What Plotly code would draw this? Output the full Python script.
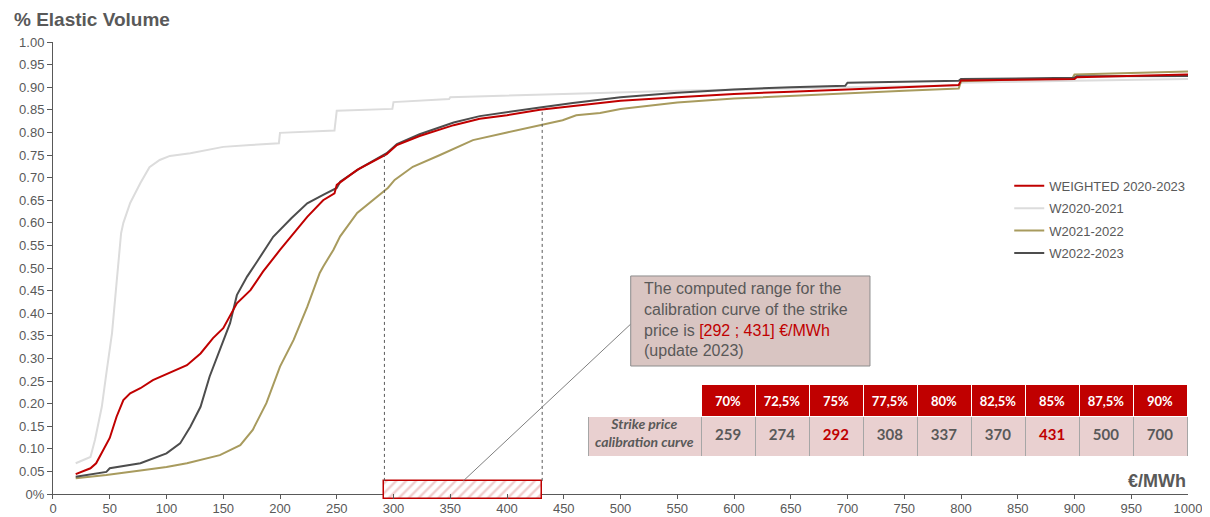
import plotly.graph_objects as go

# ---------------- data ----------------
weighted_x = [20, 33, 38, 46, 50, 56, 62, 68, 77, 88, 100, 109, 118, 130, 141, 150, 162, 174, 185, 200,
              212, 224, 238, 248, 250, 268, 294, 303, 323, 353, 376, 400, 429, 458, 482, 500, 550, 600,
              650, 700, 750, 798, 800, 850, 900, 902, 950, 1000]
weighted_y = [0.044, 0.057, 0.068, 0.105, 0.124, 0.171, 0.208, 0.223, 0.234, 0.252, 0.265, 0.274, 0.285,
              0.311, 0.345, 0.367, 0.422, 0.451, 0.492, 0.540, 0.577, 0.613, 0.650, 0.665, 0.684, 0.717,
              0.752, 0.772, 0.792, 0.816, 0.830, 0.838, 0.850, 0.858, 0.866, 0.870, 0.878, 0.885, 0.890,
              0.895, 0.900, 0.905, 0.915, 0.916, 0.918, 0.922, 0.925, 0.928]

w2021_x = [20, 33, 37, 43, 47, 52, 56, 60, 62, 68, 77, 85, 94, 103, 121, 150, 174, 199, 200, 248, 250,
           299, 300, 349, 350, 400, 482, 550, 600, 700, 798, 800, 900, 1000]
w2021_y = [0.068, 0.082, 0.120, 0.193, 0.267, 0.356, 0.467, 0.577, 0.600, 0.644, 0.688, 0.723, 0.739,
           0.748, 0.754, 0.768, 0.772, 0.776, 0.799, 0.804, 0.848, 0.852, 0.867, 0.874, 0.878, 0.882,
           0.887, 0.892, 0.895, 0.900, 0.904, 0.910, 0.914, 0.918]

w2122_x = [20, 47, 77, 100, 118, 147, 165, 176, 188, 200, 212, 220, 224, 235, 238, 247, 253, 268, 282,
           295, 301, 317, 341, 370, 400, 429, 449, 461, 482, 500, 550, 600, 650, 700, 750, 798, 800, 850,
           898, 900, 950, 1000]
w2122_y = [0.035, 0.042, 0.052, 0.060, 0.068, 0.086, 0.108, 0.142, 0.201, 0.282, 0.341, 0.392, 0.414,
           0.489, 0.503, 0.540, 0.570, 0.622, 0.650, 0.677, 0.695, 0.724, 0.750, 0.783, 0.800, 0.816,
           0.827, 0.838, 0.843, 0.852, 0.866, 0.875, 0.881, 0.887, 0.892, 0.897, 0.913, 0.917, 0.919,
           0.928, 0.931, 0.935]

w2223_x = [20, 47, 50, 77, 100, 112, 121, 130, 138, 147, 156, 162, 171, 180, 194, 210, 224, 238, 250,
           253, 270, 294, 303, 323, 353, 376, 400, 429, 458, 482, 500, 550, 600, 650, 698, 700, 750, 798,
           800, 850, 900, 902, 1000]
w2223_y = [0.038, 0.049, 0.057, 0.068, 0.090, 0.112, 0.149, 0.193, 0.260, 0.319, 0.378, 0.440, 0.481,
           0.515, 0.569, 0.610, 0.643, 0.662, 0.677, 0.691, 0.720, 0.754, 0.774, 0.796, 0.822, 0.836,
           0.845, 0.855, 0.865, 0.873, 0.878, 0.888, 0.895, 0.900, 0.903, 0.910, 0.912, 0.914, 0.918,
           0.919, 0.921, 0.924, 0.925]

y_tick_vals = [0, 0.05, 0.10, 0.15, 0.20, 0.25, 0.30, 0.35, 0.40, 0.45, 0.50, 0.55, 0.60, 0.65, 0.70,
               0.75, 0.80, 0.85, 0.90, 0.95, 1.00]
y_tick_text = ["0%", "0.05", "0.10", "0.15", "0.20", "0.25", "0.30", "0.35", "0.40", "0.45", "0.50",
               "0.55", "0.60", "0.65", "0.70", "0.75", "0.80", "0.85", "0.90", "0.95", "1.00"]

range_low = 292
range_high = 431
range_low_level = 0.75
range_high_level = 0.85

table_header = ["70%", "72,5%", "75%", "77,5%", "80%", "82,5%", "85%", "87,5%", "90%"]
table_values = [259, 274, 292, 308, 337, 370, 431, 500, 700]
table_label = "Strike price<br>calibration curve"

GRAY = "#595959"
RED = "#c00000"

fig = go.Figure()

# hatched range rectangle
fig.add_trace(go.Bar(
    x=[(range_low + range_high) / 2], y=[0.04], base=[-0.011], width=[range_high - range_low],
    marker=dict(color="white", line=dict(color=RED, width=1.5),
                pattern=dict(shape="/", fgcolor="#e09a9a", bgcolor="white", size=7, solidity=0.35)),
    showlegend=False, hoverinfo="skip"))

series = [
    ("W2020-2021", w2021_x, w2021_y, "#dcdcdc"),
    ("W2021-2022", w2122_x, w2122_y, "#a89b5e"),
    ("W2022-2023", w2223_x, w2223_y, "#4d4d4d"),
    ("WEIGHTED 2020-2023", weighted_x, weighted_y, RED),
]
legend_rank = {"WEIGHTED 2020-2023": 1, "W2020-2021": 2, "W2021-2022": 3, "W2022-2023": 4}
for name, xs, ys, col in series:
    fig.add_trace(go.Scatter(x=xs, y=ys, mode="lines", name=name, legendgroup=name,
                             line=dict(color=col, width=2), legendrank=legend_rank[name]))

# table
ncol = len(table_values)
cell_font_colors = [[GRAY]] + [[RED if v in (range_low, range_high) else GRAY] for v in table_values]
fig.add_trace(go.Table(
    domain=dict(x=[0.4714, 1.0], y=[0.094, 0.2495]),
    columnwidth=[113] + [54] * ncol,
    header=dict(values=[""] + [f"<b>{h}</b>" for h in table_header],
                fill_color=["white"] + [RED] * ncol,
                line=dict(color="white", width=1),
                font=dict(color="white", size=13, family="Lato"),
                align="center", height=28),
    cells=dict(values=[[""]] + [[f"<b>{v}</b>"] for v in table_values],
               fill_color="#e9d0d0",
               line=dict(color="#a6a6a6", width=1),
               font=dict(color=cell_font_colors, size=15, family="Lato"),
               align="center", height=43),
))

shapes = [
    dict(type="line", xref="x", yref="y", x0=range_low, x1=range_low, y0=0.029, y1=range_low_level,
         line=dict(color=GRAY, width=1, dash="dot")),
    dict(type="line", xref="x", yref="y", x0=range_high, x1=range_high, y0=0.029, y1=range_high_level,
         line=dict(color=GRAY, width=1, dash="dot")),
    dict(type="line", xref="x", yref="y", x0=(range_low + range_high) / 2, y0=0.029, x1=509, y1=0.376,
         line=dict(color="#7f7f7f", width=1)),
    # callout box
    dict(type="rect", xref="paper", yref="paper", x0=0.509, x1=0.7198, y0=0.291, y1=0.488,
         fillcolor="#d9c5c2", line=dict(color="#8c8c8c", width=1), layer="above"),
]

annotations = [
    dict(text="<b>% Elastic Volume</b>", xref="paper", yref="paper", x=-0.036, y=1.05,
         xanchor="left", yanchor="middle", showarrow=False, font=dict(size=19, color=GRAY)),
    dict(text="<b>€/MWh</b>", xref="paper", yref="paper", x=1.0, y=0.04,
         xanchor="right", yanchor="middle", showarrow=False, font=dict(size=18, color=GRAY)),
    dict(text=("The computed range for the<br>calibration curve of the strike<br>price is "
               f"<span style='color:{RED}'>[{range_low} ; {range_high}] €/MWh</span><br>(update 2023)"),
         xref="paper", yref="paper", x=0.52, y=0.481, xanchor="left", yanchor="top",
         showarrow=False, align="left", borderpad=0,
         font=dict(size=16, color=GRAY)),
    # row label of the table (vertically centred in its cell)
    dict(text=f"<b><i>{table_label}</i></b>", xref="paper", yref="paper", x=0.521, y=0.145,
         xanchor="center", yanchor="middle", showarrow=False, align="center",
         font=dict(size=14, color=GRAY, family="Lato")),
]

# the page adds an 8px body margin; the figure is sized so the plot sits where it should
fig.update_layout(
    width=1202, height=509,
    margin=dict(l=45, r=22, t=34, b=18),
    paper_bgcolor="white", plot_bgcolor="white",
    font=dict(family="Liberation Sans, Arial", color=GRAY, size=13),
    showlegend=True,
    legend=dict(x=0.8425, y=0.718, xanchor="left", yanchor="top", bgcolor="rgba(0,0,0,0)",
                font=dict(size=13, color=GRAY), tracegroupgap=2.5),
    xaxis=dict(range=[0, 1000], tickvals=list(range(0, 1001, 50)), showgrid=False, showline=False,
               zeroline=False, ticks="inside", ticklen=5, tickcolor=GRAY, automargin=False,
               tickfont=dict(size=13, color=GRAY)),
    yaxis=dict(range=[-0.011, 1.0], tickvals=y_tick_vals, ticktext=y_tick_text, showgrid=False,
               showline=True, linecolor=GRAY, linewidth=1, ticks="outside", ticklen=5, tickcolor=GRAY,
               zeroline=True, zerolinecolor=GRAY, zerolinewidth=1, automargin=False,
               tickfont=dict(size=13, color=GRAY)),
    shapes=shapes,
    annotations=annotations,
    bargap=0,
)

fig.write_html("out.html")
